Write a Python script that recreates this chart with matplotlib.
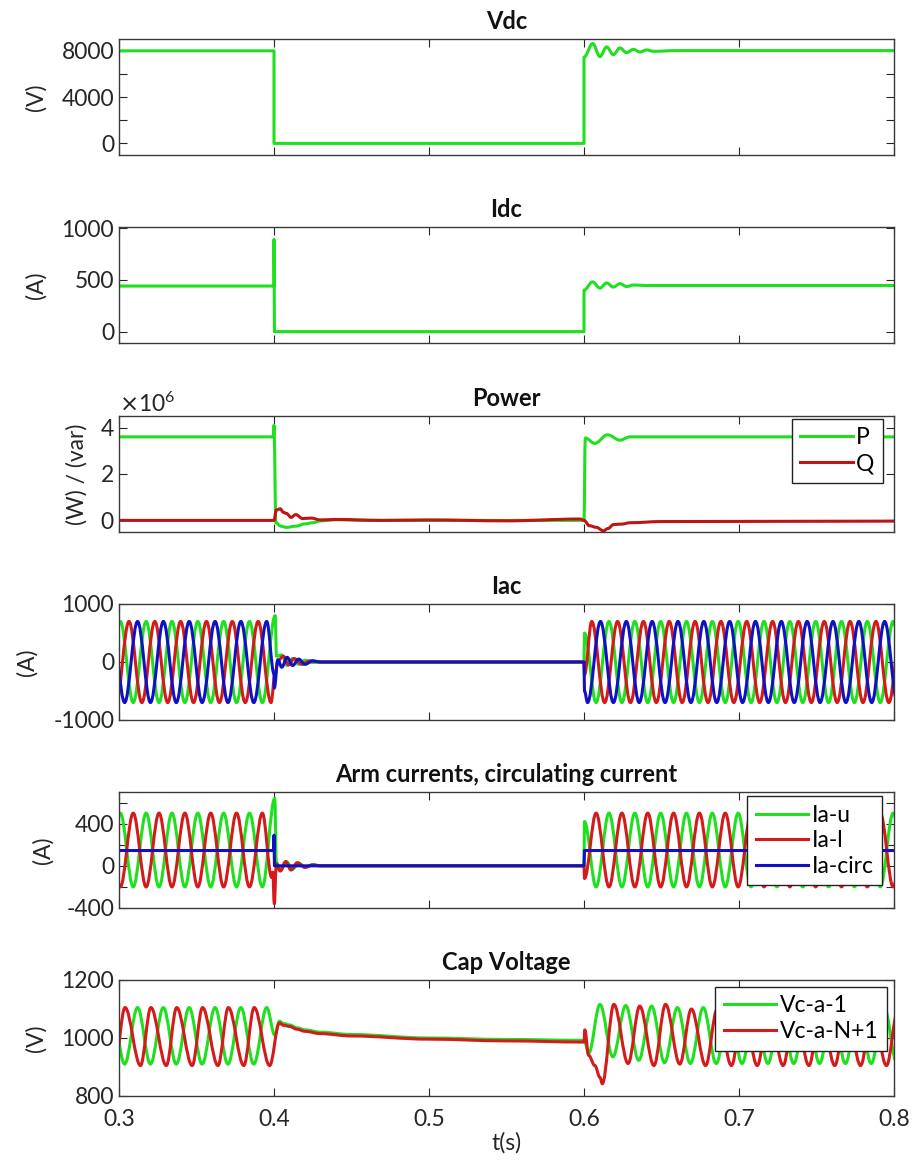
import numpy as np
import matplotlib
matplotlib.use('Agg')
import matplotlib.pyplot as plt
from matplotlib.path import Path
from matplotlib.patches import PathPatch
from matplotlib.lines import Line2D
from matplotlib.ticker import ScalarFormatter

plt.rcParams['font.family'] = ['Lato', 'DejaVu Sans']
plt.rcParams['axes.unicode_minus'] = False

GREEN = '#1fe01f'
RED = '#d41a1a'
DRED = '#c01414'
BLUE = '#1010c4'

# period of the ac quantities (60 Hz) -> spacing of successive extrema
T = 1 / 60
H = T / 2

# ---------------- Vdc ----------------
vdc_t = [0.29, 0.4, 0.4, 0.6, 0.6, 0.6056, 0.6103, 0.6146, 0.6189, 0.6232, 0.6275,
         0.6318, 0.6361, 0.6405, 0.6447, 0.66, 0.81]
vdc_v = [7980, 7980, 0, 0, 7440, 8610, 7480, 8320, 7650, 8230, 7820,
         8110, 7880, 8060, 7940, 8000, 8000]

# ---------------- Idc ----------------
idc_t = [0.29, 0.4, 0.4, 0.4003, 0.6, 0.6, 0.6055, 0.6103, 0.6146, 0.6189, 0.6232,
         0.6275, 0.632, 0.64, 0.81]
idc_v = [440, 440, 890, 0, 0, 400, 480, 420, 470, 430, 463,
         435, 450, 445, 445]

# ---------------- Power (MW / Mvar) ----------------
p_t = [0.29, 0.3995, 0.4, 0.4012, 0.4045, 0.408, 0.414, 0.42, 0.425, 0.43, 0.44, 0.46,
       0.6, 0.6008, 0.607, 0.6152, 0.6232, 0.6297, 0.81]
p_v = [3.6, 3.6, 4.1, -0.1, -0.25, -0.3, -0.25, -0.15, -0.1, -0.02, 0.03, 0.0,
       0.0, 3.55, 3.32, 3.69, 3.46, 3.6, 3.6]
q_t = [0.29, 0.4, 0.4015, 0.404, 0.406, 0.408, 0.411, 0.414, 0.4185, 0.424, 0.43, 0.44,
       0.47, 0.5, 0.55, 0.5975, 0.6, 0.6035, 0.608, 0.6125, 0.6155, 0.619, 0.624, 0.63,
       0.65, 0.81]
q_v = [0.0, 0.0, 0.45, 0.5, 0.35, 0.3, 0.13, 0.25, 0.08, 0.1, 0.02, 0.04,
       0.0, 0.02, -0.02, 0.06, 0.0, -0.23, -0.3, -0.45, -0.35, -0.18, -0.16, -0.1,
       -0.05, -0.03]

# ---------------- Iac (three phases) ----------------
# extrema before 0.4 s, transient after 0.4 s, extrema after 0.6 s
iac_g_first, iac_g_pre = 0.2925, [-700, 700, -700, 700, -700, 700, -700, 700, -700, 700, -700, 700, -700]
iac_g_mid_t = [0.4008, 0.4016, 0.405, 0.4085, 0.412, 0.416, 0.42, 0.425, 0.43, 0.6, 0.6003]
iac_g_mid_v = [800, 100, 120, -60, 60, -40, 30, -10, 0, 0, 500]
iac_g_second, iac_g_post = 0.6078, [-700, 700, -700, 700, -700, 700, -700, 700, -700, 700, -700, 700, -700,
                                    700, -700, 700, -700, 700, -700, 700, -700, 700, -700, 700, -700]

iac_r_first, iac_r_pre = 0.2981, [-700, 700, -700, 700, -700, 700, -700, 700, -700, 700, -700, 700, -700]
iac_r_mid_t = [0.4005, 0.4025, 0.406, 0.4095, 0.413, 0.418, 0.423, 0.43, 0.6, 0.6003]
iac_r_mid_v = [-250, 20, 100, -50, 60, -40, 20, 0, 0, -220]
iac_r_second, iac_r_post = 0.6050, [700, -700, 700, -700, 700, -700, 700, -700, 700, -700, 700, -700, 700,
                                    -700, 700, -700, 700, -700, 700, -700, 700, -700, 700, -700, 700]

iac_b_first, iac_b_pre = 0.2953, [700, -700, 700, -700, 700, -700, 700, -700, 700, -700, 700, -700, 700]
iac_b_mid_t = [0.4, 0.4002, 0.4025, 0.405, 0.4085, 0.412, 0.416, 0.42, 0.425, 0.43, 0.6, 0.6003]
iac_b_mid_v = [-200, -450, 40, -90, 80, -60, 50, -40, 20, 0, 0, -500]
iac_b_second, iac_b_post = 0.6023, [-700, 700, -700, 700, -700, 700, -700, 700, -700, 700, -700, 700, -700,
                                    700, -700, 700, -700, 700, -700, 700, -700, 700, -700, 700, -700]

# ---------------- Arm currents ----------------
arm_u_first, arm_u_pre = 0.2925, [-200, 500, -200, 500, -200, 500, -200, 500, -200, 500, -200, 500, -200]
arm_u_mid_t = [0.4005, 0.4015, 0.4045, 0.408, 0.412, 0.416, 0.42, 0.425, 0.43, 0.6, 0.6003]
arm_u_mid_v = [640, 30, -40, 40, -30, 25, -15, 10, 0, 0, 420]
arm_u_second, arm_u_post = 0.6078, [-200, 500, -200, 500, -200, 500, -200, 500, -200, 500, -200, 500, -200,
                                    500, -200, 500, -200, 500, -200, 500, -200, 500, -200, 500, -200]

arm_l_first, arm_l_pre = 0.2925, [500, -200, 500, -200, 500, -200, 500, -200, 500, -200, 500, -200, 500]
arm_l_mid_t = [0.3985, 0.3992, 0.4002, 0.4015, 0.404, 0.4075, 0.411, 0.415, 0.42, 0.425, 0.43, 0.6, 0.6003]
arm_l_mid_v = [-110, -60, -360, 20, -50, 40, -40, 30, -15, 10, 0, 0, -120]
arm_l_second, arm_l_post = 0.6078, [500, -200, 500, -200, 500, -200, 500, -200, 500, -200, 500, -200, 500,
                                    -200, 500, -200, 500, -200, 500, -200, 500, -200, 500, -200, 500]

arm_c_t = [0.29, 0.3998, 0.4, 0.4003, 0.6, 0.6003, 0.81]
arm_c_v = [145, 145, 290, 0, 0, 145, 145]

# ---------------- Capacitor voltages ----------------
cap1_first, cap1_pre = 0.2953, [1105, 910, 1105, 910, 1105, 910, 1105, 910, 1105, 910, 1105, 910, 1105]
cap1_mid_t = [0.4005, 0.4035, 0.406, 0.41, 0.415, 0.42, 0.43, 0.45, 0.5, 0.55, 0.6, 0.6005, 0.603]
cap1_mid_v = [1010, 1058, 1050, 1045, 1035, 1028, 1020, 1012, 1000, 995, 992, 985, 947]
cap1_second, cap1_post = 0.6103, [1116, 935, 1112, 923, 1110, 915, 1105, 912, 1105, 912, 1105, 912, 1105,
                                  912, 1105, 912, 1105, 912, 1105, 912, 1105, 912, 1105, 912, 1105]

# red capacitor: faster rise than fall
cap2_rise, cap2_fall = 0.0067, T - 0.0067
cap2_first, cap2_pre = 0.2972, [905, 1105, 905, 1105, 905, 1105, 905, 1105, 905, 1105, 905, 1105, 905]
cap2_mid_t = [0.4035, 0.406, 0.41, 0.415, 0.42, 0.43, 0.45, 0.5, 0.55, 0.6, 0.6005, 0.603, 0.607, 0.6103]
cap2_mid_v = [1052, 1044, 1040, 1030, 1023, 1015, 1007, 996, 990, 986, 1028, 940, 905, 864]
cap2_rise2 = 0.0075
cap2_second, cap2_post = 0.6118, [842, 1116, 912, 1110, 905, 1116, 910, 1100, 905, 1100, 905, 1100, 905,
                                  1100, 905, 1100, 905, 1100, 905, 1100, 905, 1100, 905, 1100, 905]


def times(t0, n, gap1=H, gap2=H):
    # times of successive extrema, alternating gaps
    out = [t0]
    for k in range(1, n):
        out.append(out[-1] + (gap1 if k % 2 == 1 else gap2))
    return out


def wave(first, pre, mid_t, mid_v, second, post, gap1=H, gap2=H, gap3=H, gap4=H):
    t = times(first, len(pre), gap1, gap2) + list(mid_t) + times(second, len(post), gap3, gap4)
    v = list(pre) + list(mid_v) + list(post)
    return t, v


def smooth(ax, t, v, color, lw=2.2, z=2):
    # curve through the read points, flat tangent at every point
    t = np.asarray(t, float)
    v = np.asarray(v, float)
    d = np.diff(t) * 0.36
    verts = [(t[0], v[0])]
    codes = [Path.MOVETO]
    for i in range(len(d)):
        verts += [(t[i] + d[i], v[i]), (t[i + 1] - d[i], v[i + 1]), (t[i + 1], v[i + 1])]
        codes += [Path.CURVE4] * 3
    ax.add_patch(PathPatch(Path(verts, codes), fill=False, edgecolor=color, lw=lw,
                           zorder=z, joinstyle='round', capstyle='butt'))


W, Hpx = 914, 1167
fig = plt.figure(figsize=(W / 100, Hpx / 100), dpi=100)

tops = [39, 227, 416, 604, 792, 980]
axes = []
for top in tops:
    ax = fig.add_axes([119 / W, 1 - (top + 116) / Hpx, 775 / W, 116 / Hpx])
    ax.set_xlim(0.3, 0.8)
    ax.set_xticks([0.3, 0.4, 0.5, 0.6, 0.7, 0.8])
    ax.tick_params(direction='in', length=6, width=0.8, top=True, right=True,
                   labelsize=16.5, colors='#262626', which='both')
    for s in ax.spines.values():
        s.set_color('#3a3a3a')
        s.set_linewidth(1.0)
    if top != tops[-1]:
        ax.tick_params(labelbottom=False)
    axes.append(ax)

ax1, ax2, ax3, ax4, ax5, ax6 = axes
ax6.tick_params(axis='x', pad=9)
tkw = dict(fontsize=17, fontweight='bold', pad=7, color='#111111')
lkw = dict(fontsize=16.5, color='#262626')

# Vdc
smooth(ax1, vdc_t, vdc_v, GREEN)
ax1.set_ylim(-1000, 9000)
ax1.set_yticks([0, 4000, 8000])
ax1.set_yticks([2000, 6000], minor=True)
ax1.set_title('Vdc', **tkw)
ax1.set_ylabel('(V)', **lkw)

# Idc
smooth(ax2, idc_t, idc_v, GREEN)
ax2.set_ylim(-110, 1010)
ax2.set_yticks([0, 500, 1000])
ax2.set_title('Idc', **tkw)
ax2.set_ylabel('(A)', **lkw)

# Power
smooth(ax3, p_t, np.array(p_v) * 1e6, GREEN)
smooth(ax3, q_t, np.array(q_v) * 1e6, DRED)
ax3.set_ylim(-0.5e6, 4.5e6)
ax3.set_yticks([0, 2e6, 4e6])
fmt = ScalarFormatter(useMathText=True)
ax3.yaxis.set_major_formatter(fmt)
ax3.yaxis.get_offset_text().set_fontsize(16.5)
ax3.set_title('Power', **tkw)
ax3.set_ylabel('(W) / (var)', **lkw)

# Iac
smooth(ax4, *wave(iac_g_first, iac_g_pre, iac_g_mid_t, iac_g_mid_v, iac_g_second, iac_g_post), GREEN)
smooth(ax4, *wave(iac_r_first, iac_r_pre, iac_r_mid_t, iac_r_mid_v, iac_r_second, iac_r_post), RED)
smooth(ax4, *wave(iac_b_first, iac_b_pre, iac_b_mid_t, iac_b_mid_v, iac_b_second, iac_b_post), BLUE)
ax4.set_ylim(-1000, 1000)
ax4.set_yticks([-1000, 0, 1000])
ax4.set_title('Iac', **tkw)
ax4.set_ylabel('(A)', **lkw)

# Arm currents
smooth(ax5, *wave(arm_u_first, arm_u_pre, arm_u_mid_t, arm_u_mid_v, arm_u_second, arm_u_post), GREEN)
smooth(ax5, *wave(arm_l_first, arm_l_pre, arm_l_mid_t, arm_l_mid_v, arm_l_second, arm_l_post), RED)
smooth(ax5, arm_c_t, arm_c_v, BLUE)
ax5.set_ylim(-400, 700)
ax5.set_yticks([-400, 0, 400])
ax5.set_yticks([-200, 200, 600], minor=True)
ax5.set_title('Arm currents, circulating current', **tkw)
ax5.set_ylabel('(A)', **lkw)

# Cap voltage
smooth(ax6, *wave(cap1_first, cap1_pre, cap1_mid_t, cap1_mid_v, cap1_second, cap1_post), GREEN)
smooth(ax6, *wave(cap2_first, cap2_pre, cap2_mid_t, cap2_mid_v, cap2_second, cap2_post,
                  cap2_rise, cap2_fall, cap2_rise2, T - cap2_rise2), RED)
ax6.set_ylim(800, 1200)
ax6.set_yticks([800, 1000, 1200])
ax6.set_title('Cap Voltage', **tkw)
ax6.set_ylabel('(V)', **lkw)
ax6.set_xlabel('t(s)', labelpad=2, **lkw)

# y-label positions (right edge of the rotated text, axes fraction)
for ax, x in zip(axes, [-0.093, -0.093, -0.040, -0.105, -0.085, -0.093]):
    ax.yaxis.set_label_coords(x, 0.5)

legkw = dict(fontsize=16.5, frameon=True, fancybox=False, framealpha=1, edgecolor='#222222',
             handlelength=2.3, handletextpad=0.15, labelspacing=0.2, borderpad=0.37,
             borderaxespad=0.0)


def handles(cols):
    return [Line2D([0], [0], color=c, lw=2.2) for c in cols]


leg = ax3.legend(handles([GREEN, DRED]), ['P', 'Q'], loc='upper right',
                 bbox_to_anchor=(0.986, 0.974), **legkw)
leg.get_frame().set_linewidth(1.0)
leg = ax5.legend(handles([GREEN, RED, BLUE]), ['Ia-u', 'Ia-l', 'Ia-circ'], loc='upper right',
                 bbox_to_anchor=(0.985, 0.965), **legkw)
leg.get_frame().set_linewidth(1.0)
leg = ax6.legend(handles([GREEN, RED]), ['Vc-a-1', 'Vc-a-N+1'], loc='upper right',
                 bbox_to_anchor=(0.991, 0.94), **legkw)
leg.get_frame().set_linewidth(1.0)

fig.savefig('out.png', dpi=100)
